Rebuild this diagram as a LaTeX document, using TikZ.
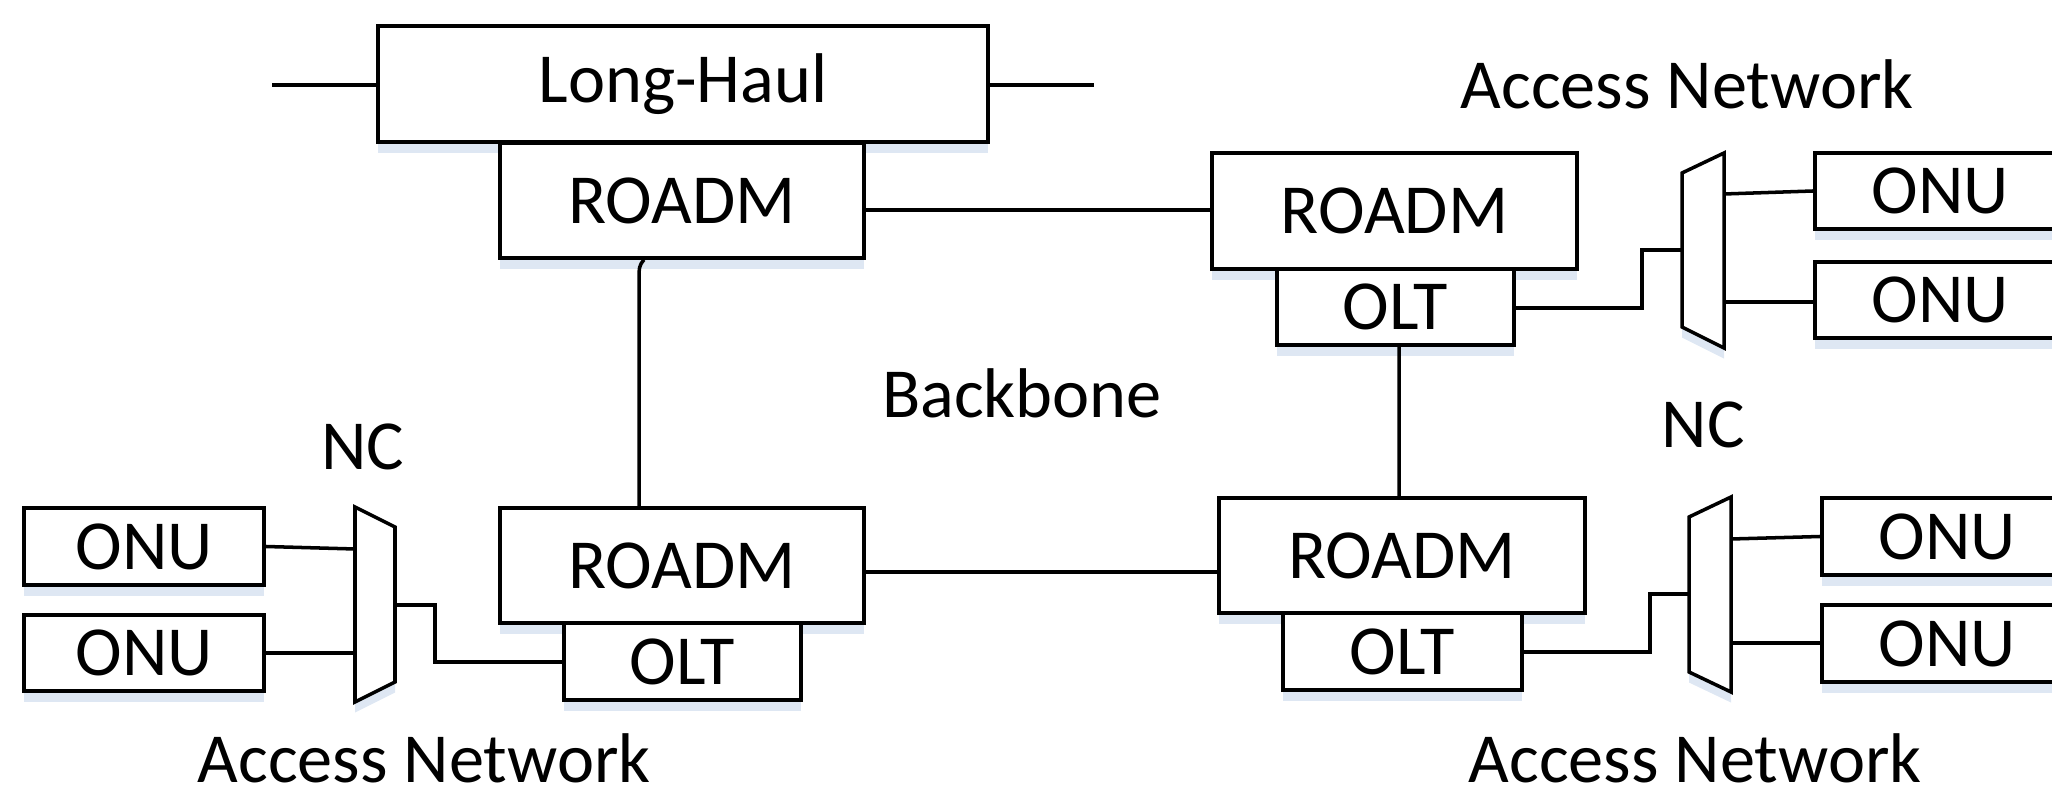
\documentclass[tikz,border=0pt]{standalone}
\usepackage{fontspec}
\setmainfont{Carlito}
\usetikzlibrary{shadows}
\definecolor{shadowblue}{RGB}{200,215,235}
\begin{document}
\begin{tikzpicture}[x=0.01cm,y=-0.01cm, line width=1pt, line join=miter,
  shad/.style={drop shadow={shadow xshift=0pt, shadow yshift=-3pt, fill=shadowblue, opacity=0.6}},
  box/.style={draw, fill=white, inner sep=0pt, font=\fontsize{20}{24}\selectfont, shad},
  lbl/.style={font=\fontsize{20}{24}\selectfont, inner sep=0pt},
  mux/.style={draw, fill=white, shad}]
\useasboundingbox (0,0) rectangle (2052,795);
\clip (0,0) rectangle (2052,795);

% Long-haul and top-left ROADM
\node[box, minimum width=6.10cm, minimum height=1.16cm] (lh) at (683,84) {Long-Haul};
\node[box, minimum width=3.64cm, minimum height=1.15cm] (r1) at (682,200.5) {ROADM};
\coordinate (lhL) at (272,85);
\coordinate (lhR) at (1094,85);
\draw (lhL) -- (lh.west |- lhL);
\draw (lh.east |- lhR) -- (lhR);

% Top-right ROADM + OLT
\node[box, minimum width=3.65cm, minimum height=1.16cm] (r2) at (1394.5,211) {ROADM};
\node[box, minimum width=2.37cm, minimum height=0.76cm] (olt2) at (1395.5,307) {OLT};

% Bottom-right ROADM + OLT
\node[box, minimum width=3.66cm, minimum height=1.15cm] (r3) at (1402,555.5) {ROADM};
\node[box, minimum width=2.39cm, minimum height=0.77cm] (olt3) at (1402.5,651.5) {OLT};

% Bottom-left ROADM + OLT
\node[box, minimum width=3.64cm, minimum height=1.15cm] (r4) at (682,565.5) {ROADM};
\node[box, minimum width=2.37cm, minimum height=0.77cm] (olt1) at (682.5,661.5) {OLT};

% ONUs
\node[box, minimum width=2.50cm, minimum height=0.76cm] (onuA) at (1940,191) {ONU};
\node[box, minimum width=2.50cm, minimum height=0.76cm] (onuB) at (1940,300) {ONU};
\node[box, minimum width=2.50cm, minimum height=0.77cm] (onuC) at (1947,536.5) {ONU};
\node[box, minimum width=2.50cm, minimum height=0.77cm] (onuD) at (1947,643.5) {ONU};
\node[box, minimum width=2.40cm, minimum height=0.77cm] (onuE) at (144,546.5) {ONU};
\node[box, minimum width=2.40cm, minimum height=0.76cm] (onuF) at (144,653) {ONU};

% Multiplexers (NC)
\draw[mux] (1682,173) -- (1724,153) -- (1724,348) -- (1682,327) -- cycle;
\coordinate (m2in) at (1682,250);
\coordinate (m2o1) at (1724,194);
\coordinate (m2o2) at (1724,302);
\draw[mux] (1689,517) -- (1731,497) -- (1731,692) -- (1689,672) -- cycle;
\coordinate (m3in) at (1689,594);
\coordinate (m3o1) at (1731,539);
\coordinate (m3o2) at (1731,643);
\draw[mux] (355,507) -- (395,527) -- (395,682) -- (355,702) -- cycle;
\coordinate (m1in) at (395,605);
\coordinate (m1o1) at (355,549);
\coordinate (m1o2) at (355,653);

% Backbone links
\draw (r1.east |- 0,210) -- (r2.west |- 0,210);
\coordinate (bend) at (639,284);
\draw ([xshift=-0.38cm]r1.south) .. controls (639,266) .. (bend) -- (bend |- r4.north);
\draw ([xshift=0.035cm]olt2.south) -- ([xshift=-0.03cm]r3.north);
\draw (r4.east |- 0,572) -- (r3.west |- 0,572);

% Access links
\draw (olt2.east |- 0,308) -| (1642,250) -- (m2in);
\draw (m2o1) -- (onuA.west);
\draw (m2o2) -- (onuB.west |- m2o2);
\draw (olt3.east |- 0,652) -| (1650,594) -- (m3in);
\draw (m3o1) -- (onuC.west);
\draw (m3o2) -- (onuD.west |- m3o2);
\draw (onuE.east) -- (m1o1);
\draw (onuF.east |- m1o2) -- (m1o2);
\draw (m1in) -| (435,662) -- (olt1.west |- 0,662);

% Labels
\node[lbl] (accTR) at (1687,84) {Access Network};
\node[lbl] (accBL) at (424,758) {Access Network};
\node[lbl] (accBR) at (1695,758) {Access Network};
\node[lbl] (bb) at (1022,393) {Backbone};
\node[lbl] (ncR) at (1703,425) {NC};
\node[lbl] (ncL) at (363,447) {NC};
\end{tikzpicture}
\end{document}
